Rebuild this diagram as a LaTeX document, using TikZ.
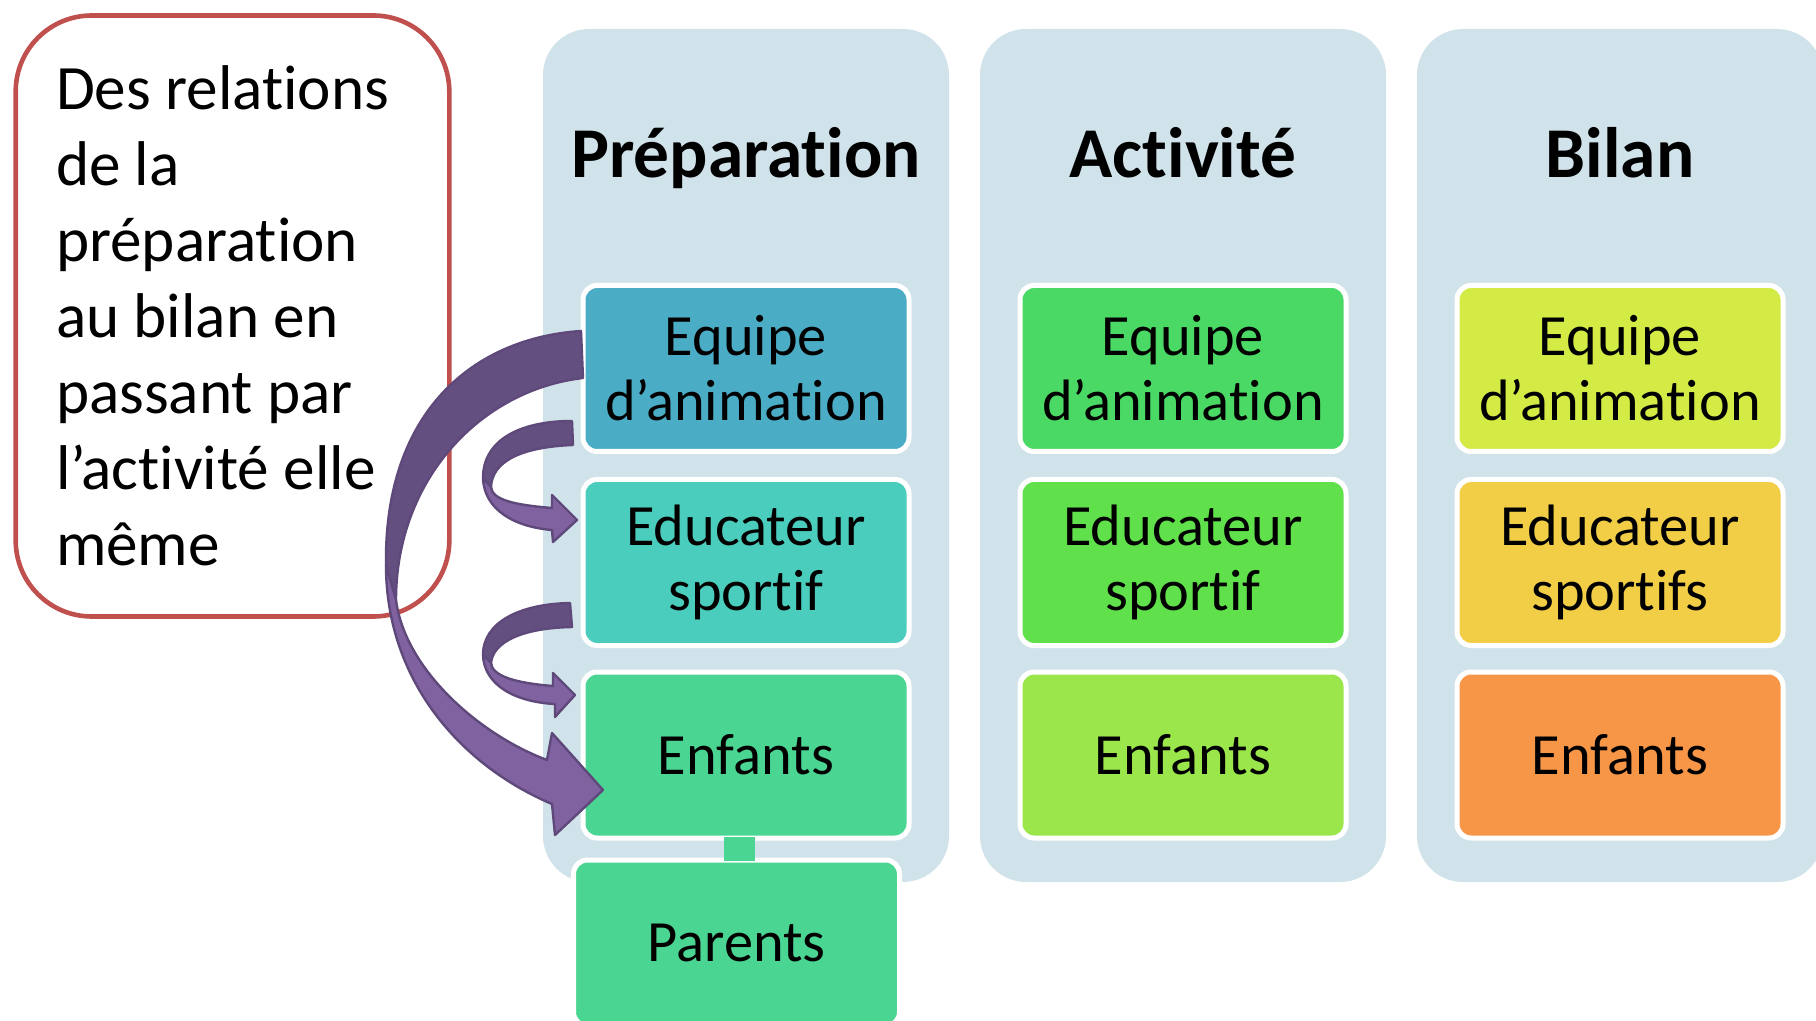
\documentclass[tikz,border=0pt]{standalone}
\usepackage{fontspec}
\setmainfont{Carlito}[Ligatures = {NoCommon, NoContextual, NoRequired}, RawFeature = {-liga;-clig;-calt;-dlig}]
\definecolor{panelbg}{HTML}{D1E3EA}
\definecolor{prepA}{HTML}{4BACC6}
\definecolor{prepB}{HTML}{4ACDBC}
\definecolor{prepC}{HTML}{4AD592}
\definecolor{actiA}{HTML}{4AD964}
\definecolor{actiB}{HTML}{60E04A}
\definecolor{actiC}{HTML}{9BE64A}
\definecolor{bilanA}{HTML}{D4EB45}
\definecolor{bilanB}{HTML}{F2CE47}
\definecolor{bilanC}{HTML}{F79646}
\definecolor{introline}{HTML}{C0504D}
\definecolor{arrowdark}{HTML}{645080}
\definecolor{arrowlight}{HTML}{8062A1}
\definecolor{arrowline}{HTML}{5E497A}

\begin{document}
\begin{tikzpicture}[x = 0.5pt, y = -0.5pt,
                    colpanel/.style = {fill = panelbg, rounded corners = 23pt, minimum width = 203pt, minimum height = 426.5pt, inner sep = 0pt},
                    coltitle/.style = {anchor = base, inner sep = 0pt, font = \fontsize{35.7}{42}\selectfont\bfseries},
                    stage/.style = {draw = white, line width = 2.5pt, rounded corners = 7pt, minimum width = 163pt, minimum height = 83pt,
                                    inner sep = 0pt, align = center, font = \fontsize{29.2}{32.5}\selectfont},
                    introbox/.style = {draw = introline, line width = 2.3pt, rounded corners = 38pt, minimum height = 300.5pt,
                                       text width = 176.5pt, inner xsep = 20.15pt, execute at end node = {\endgraf\vskip 3.5pt},
                                       align = flush left, font = \fontsize{31.6}{38}\selectfont},
                    link/.style = {draw = prepC, line width = 15.5pt, shorten < = -1.6pt, shorten > = -1.6pt},
                    ribbondark/.style = {fill = arrowdark, draw = arrowline, line width = 1.2pt, line join = round},
                    ribbonlight/.style = {fill = arrowlight, draw = arrowline, line width = 1.2pt, line join = round}]
  \useasboundingbox (0, 0) rectangle (1816, 1021);
  \fill [white] (0, 0) rectangle (1816, 1021);

  \node [colpanel] (colprep) at (746, 455.5){};
  \node [colpanel] (colacti) at (1183, 455.5){};
  \node [colpanel] (colbilan) at (1620, 455.5){};

  \node [coltitle] (tprep) at (746, 178){Préparation};
  \node [coltitle] (tacti) at (1183, 178){Activité};
  \node [coltitle] (tbilan) at (1620, 178){Bilan};

  \node [stage, fill = prepA] (eq1) at (746, 368.5){Equipe\\d’animation};
  \node [stage, fill = prepB] (ed1) at (746, 562.5){Educateur\\sportif};
  \node [stage, fill = prepC] (en1) at (746, 755){Enfants};
  \node [stage, fill = prepC] (par) at (736.5, 943){Parents};

  \node [stage, fill = actiA] (eq2) at (1183, 368.5){Equipe\\d’animation};
  \node [stage, fill = actiB] (ed2) at (1183, 562.5){Educateur\\sportif};
  \node [stage, fill = actiC] (en2) at (1183, 755){Enfants};

  \node [stage, fill = bilanA] (eq3) at (1620, 368.5){Equipe\\d’animation};
  \node [stage, fill = bilanB] (ed3) at (1620, 562.5){Educateur\\sportifs};
  \node [stage, fill = bilanC] (en3) at (1620, 755){Enfants};

  \draw [link] ([xshift = -3.25pt]en1.south) -- ([xshift = -3.25pt]en1.south |- par.north);

  \node [introbox] (intro) at (232.5, 316){Des relations\\de la\\préparation\\au bilan en\\passant par\\l’activité elle\\même};

  % equipe -> enfants
  \filldraw [ribbondark] (581, 331) .. controls (475, 338) and (384, 410) .. (386, 565)
    -- (396, 600) .. controls (396, 480) and (480, 390) .. (583, 378) -- cycle;
  \filldraw [ribbonlight] (386, 565) .. controls (386, 680) and (460, 765) .. (552, 804)
    -- (555, 835) -- (603, 790) -- (552, 733) -- (547, 760)
    .. controls (480, 735) and (405, 670) .. (396, 600) -- cycle;

  % equipe -> educateur
  \filldraw [ribbondark] (572, 421) .. controls (520, 421) and (483, 440) .. (483, 478)
    -- (491, 487) .. controls (492, 462) and (520, 447) .. (573, 445) -- cycle;
  \filldraw [ribbonlight] (483, 478) .. controls (484, 510) and (515, 527) .. (552, 530)
    -- (553, 542) -- (577, 520) -- (552, 495) -- (552, 508)
    .. controls (515, 505) and (492, 500) .. (491, 487) -- cycle;

  % educateur -> enfants
  \filldraw [ribbondark] (570, 603) .. controls (520, 604) and (483, 622) .. (483, 655)
    -- (491, 663) .. controls (493, 642) and (522, 628) .. (572, 627) -- cycle;
  \filldraw [ribbonlight] (483, 655) .. controls (484, 685) and (515, 702) .. (555, 704)
    -- (555, 717) -- (575, 695) -- (553, 673) -- (553, 686)
    .. controls (515, 683) and (492, 676) .. (491, 663) -- cycle;
\end{tikzpicture}
\end{document}
